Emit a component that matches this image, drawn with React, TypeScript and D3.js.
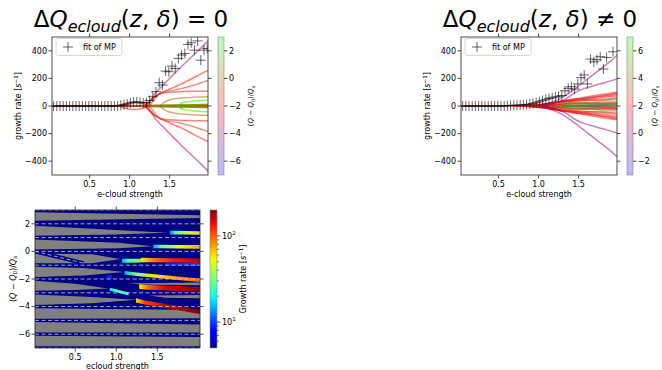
import React from "react";
import * as d3 from "d3";

const FONT = "'DejaVu Sans', sans-serif";

// e-cloud strength scan (fit of MP markers)
const scanX = [0.05, 0.09, 0.13, 0.17, 0.21, 0.25, 0.29, 0.33, 0.37, 0.41, 0.45, 0.49, 0.53, 0.57, 0.61, 0.65, 0.69, 0.73, 0.77, 0.81, 0.85, 0.89, 0.93, 0.97, 1.01, 1.05, 1.09, 1.13, 1.17, 1.21, 1.25, 1.29, 1.33, 1.37, 1.41, 1.45, 1.49, 1.53, 1.57, 1.61, 1.65, 1.69, 1.73, 1.77, 1.81, 1.85, 1.89, 1.93, 1.97];
const mpZero: (number | null)[] = [0, 0, 0, 0, 0, 0, 0, 0, 0, 0, 0, 0, 0, 0, 0, 0, 0, 0, 0, 0, 0, 5, 10, 15, 22, 28, 30, 27, 22, 25, 40, 67, 104, 169, 152, 253, 248, 289, 272, 345, 369, 380, 446, 458, 405, 472, 332, 405, 417];
const mpNonZero: (number | null)[] = [0, 0, 0, 0, 0, 0, 0, 0, 0, 0, 0, 0, 0, 0, 3, 4, 5, 6, 7, 9, 11, 14, 18, 26, 32, 40, 48, 55, 60, 65, 70, 76, 110, 128, 140, 122, 160, 205, 225, 160, 340, 320, 335, 357, 268, 352, null, 393, null];

// modes: tune shift q, strength samples x, growth of the + branch g (drawn as +g and -g)
type Mode = { q: number; x: number[]; g: number[] };

const modesZero: Mode[] = [
  { q: 2.4, x: [0.03, 1.98], g: [0, 0] },
  { q: -2.0, x: [0.03, 0.9, 1.3, 1.98], g: [0, 0, 3, 5] },
  { q: -1.0, x: [0.9, 1.3, 1.6, 1.98], g: [0, 4, 6, 8] },
  { q: 0.5, x: [1.0, 1.4, 1.98], g: [0, 3, 10] },
  { q: 1.5, x: [1.2, 1.6, 1.98], g: [0, 5, 12] },
  { q: -2.3, x: [0.88, 0.93, 0.98, 1.03, 1.08, 1.13, 1.18, 1.23], g: [0, 14, 22, 26, 26, 22, 14, 0] },
  { q: -4.2, x: [1.22, 1.26, 1.3, 1.4, 1.5, 1.6, 1.7, 1.8, 1.9, 1.98], g: [0, 35, 75, 140, 200, 258, 315, 370, 425, 472] },
  { q: -2.1, x: [1.18, 1.22, 1.28, 1.35, 1.45, 1.55, 1.65, 1.75, 1.85, 1.98], g: [0, 20, 50, 80, 110, 135, 160, 190, 220, 258] },
  { q: -0.9, x: [1.25, 1.3, 1.37, 1.45, 1.55, 1.65, 1.75, 1.85, 1.98], g: [0, 40, 90, 105, 115, 127, 142, 160, 185] },
  { q: -1.8, x: [1.2, 1.25, 1.32, 1.4, 1.5, 1.6, 1.7, 1.8, 1.9, 1.98], g: [0, 35, 70, 92, 100, 104, 105, 106, 107, 108] },
  { q: 0.0, x: [1.38, 1.42, 1.48, 1.55, 1.65, 1.75, 1.85, 1.98], g: [0, 22, 40, 50, 58, 62, 65, 67] },
  { q: 2.3, x: [1.6, 1.64, 1.7, 1.78, 1.88, 1.98], g: [0, 18, 28, 34, 39, 43] },
];

const modesNonZero: Mode[] = [
  { q: 2.0, x: [0.03, 1.98], g: [0, 0] },
  { q: 2.6, x: [0.7, 1.0, 1.3, 1.6, 1.98], g: [0, 5, 8, 10, 14] },
  { q: 2.0, x: [0.8, 1.0, 1.2, 1.4, 1.6, 1.8, 1.98], g: [0, 10, 25, 45, 65, 85, 100] },
  { q: 1.6, x: [0.85, 1.05, 1.25, 1.45, 1.65, 1.85, 1.98], g: [0, 12, 30, 50, 60, 80, 92] },
  { q: 2.4, x: [0.8, 1.0, 1.2, 1.4, 1.6, 1.8, 1.98], g: [0, 8, 22, 38, 58, 70, 85] },
  { q: 1.8, x: [0.9, 1.1, 1.3, 1.5, 1.7, 1.9, 1.98], g: [0, 15, 35, 40, 55, 68, 75] },
  { q: 3.5, x: [0.9, 1.1, 1.3, 1.5, 1.7, 1.9, 1.98], g: [0, 10, 20, 35, 45, 55, 62] },
  { q: 2.2, x: [0.95, 1.15, 1.35, 1.55, 1.75, 1.98], g: [0, 18, 30, 45, 40, 52] },
  { q: 5.5, x: [1.2, 1.4, 1.6, 1.8, 1.98], g: [0, 12, 20, 30, 38] },
  { q: 4.2, x: [1.0, 1.2, 1.4, 1.6, 1.8, 1.98], g: [0, 8, 18, 25, 22, 28] },
  { q: 1.2, x: [0.9, 1.1, 1.3, 1.5, 1.7, 1.9, 1.98], g: [0, 6, 14, 22, 18, 20, 22] },
  { q: -2.0, x: [1.3, 1.6, 1.8, 1.98], g: [0, 4, 8, 12] },
  { q: 6.2, x: [1.3, 1.6, 1.98], g: [0, 6, 10] },
  { q: -0.2, x: [1.02, 1.1, 1.2, 1.3, 1.4, 1.5, 1.6, 1.7, 1.8, 1.9, 1.98], g: [0, 15, 35, 62, 100, 145, 190, 235, 280, 325, 368] },
  { q: -0.1, x: [1.08, 1.15, 1.25, 1.35, 1.45, 1.55, 1.65, 1.75, 1.85, 1.98], g: [0, 12, 30, 55, 95, 122, 140, 157, 173, 195] },
];

const growthTicks = [-400, -200, 0, 200, 400];
const strengthTicks = [0.5, 1.0, 1.5];
const cbTicksZero = [-6, -4, -2, 0, 2];
const cbTicksNonZero = [-2, 0, 2, 4, 6];
const tuneTicks = [-6, -4, -2, 0, 2];
const integerTunes = [-7, -6, -5, -4, -3, -2, -1, 0, 1, 2, 3];

// heatmap: regions without a mode (masked, grey), as [strength, tune] outlines
const maskedRegions: [number, number][][] = [
  [[0.0, 2.84], [2.03, 2.62], [2.03, 2.42], [0.0, 2.22]],
  [[0.0, 1.86], [1.0, 1.55], [1.62, 1.36], [1.0, 1.22], [0.0, 1.14]],
  [[0.0, 0.87], [1.03, 0.63], [1.45, 0.38], [1.03, 0.22], [0.0, 0.14]],
  [[0.0, -0.15], [0.7, -0.2], [1.05, -0.55], [0.7, -0.85], [0.0, -0.85]],
  [[0.0, -1.12], [0.6, -1.2], [1.1, -1.5], [0.6, -1.75], [0.0, -1.85]],
  [[0.0, -2.12], [0.5, -2.35], [0.9, -2.68], [0.5, -2.8], [0.0, -2.85]],
  [[1.15, -2.3], [2.03, -2.25], [2.03, -2.45], [1.3, -2.4]],
  [[0.0, -3.12], [0.7, -3.3], [1.25, -3.5], [0.7, -3.75], [0.0, -3.88]],
  [[1.4, -3.2], [2.03, -3.15], [2.03, -3.4], [1.6, -3.35]],
  [[0.0, -4.12], [2.03, -4.25], [2.03, -4.85], [0.0, -4.88]],
  [[0.0, -5.12], [2.03, -5.3], [2.03, -5.88], [0.0, -5.88]],
  [[0.0, -6.12], [2.03, -6.2], [2.03, -6.88], [0.0, -6.88]],
];

// unstable modes in the heatmap: strength x, tune q, growth g
type Streak = { x: number[]; q: number[]; g: number[]; w: number };
const streaks: Streak[] = [
  { x: [1.65, 1.72, 1.85, 2.03], q: [1.36, 1.36, 1.35, 1.33], g: [12, 25, 45, 60], w: 0.26 },
  { x: [1.45, 1.55, 1.75, 2.03], q: [0.36, 0.35, 0.34, 0.33], g: [14, 28, 50, 75], w: 0.26 },
  { x: [1.07, 1.15, 1.3], q: [-0.68, -0.68, -0.67], g: [15, 25, 35], w: 0.28 },
  { x: [1.3, 1.45, 1.7, 2.03], q: [-0.62, -0.63, -0.65, -0.68], g: [55, 90, 130, 170], w: 0.32 },
  { x: [1.6, 2.03], q: [-0.92, -0.95], g: [9, 10], w: 0.2 },
  { x: [1.1, 1.25, 1.5, 1.75, 2.03], q: [-1.55, -1.65, -1.8, -1.95, -2.1], g: [15, 35, 60, 80, 100], w: 0.26 },
  { x: [0.88, 0.95], q: [-1.87, -1.87], g: [9, 9], w: 0.24 },
  { x: [0.92, 1.0, 1.15], q: [-2.75, -2.85, -3.08], g: [18, 25, 22], w: 0.22 },
  { x: [1.28, 1.4, 1.6, 2.03], q: [-2.55, -2.6, -2.65, -2.75], g: [55, 100, 150, 190], w: 0.34 },
  { x: [1.24, 1.35, 1.6, 2.03], q: [-3.55, -3.7, -3.95, -4.4], g: [60, 110, 170, 195], w: 0.3 },
];
const shiftedMode = { x: [0.01, 0.6], q: [0, -0.85] };
const rateMajor = [10, 100];
const rateMinor = [6, 7, 8, 9, 20, 30, 40, 50, 60, 70, 80, 90];

const fmt = (v: number) => (v < 0 ? "\u2212" + Math.abs(v) : String(v));

function brg(t: number) {
  t = Math.max(0, Math.min(1, t));
  const r = t < 0.5 ? 2 * t : 2 - 2 * t;
  const g = t < 0.5 ? 0 : 2 * t - 1;
  const b = t < 0.5 ? 1 - 2 * t : 0;
  return d3.rgb(r * 255, g * 255, b * 255).formatHex();
}

const jetR = [[0, 0], [0.35, 0], [0.66, 1], [0.89, 1], [1, 0.5]];
const jetG = [[0, 0], [0.125, 0], [0.375, 1], [0.64, 1], [0.91, 0], [1, 0]];
const jetB = [[0, 0.5], [0.11, 1], [0.34, 1], [0.65, 0], [1, 0]];
function chan(p: number[][], t: number) {
  for (let i = 1; i < p.length; i++) {
    if (t <= p[i][0]) {
      const [a, va] = p[i - 1];
      const [b, vb] = p[i];
      return va + ((vb - va) * (t - a)) / (b - a);
    }
  }
  return p[p.length - 1][1];
}
function jet(t: number) {
  t = Math.max(0, Math.min(1, t));
  return d3.rgb(255 * chan(jetR, t), 255 * chan(jetG, t), 255 * chan(jetB, t)).formatHex();
}
const rateT = d3.scaleLog().domain([5, 200]).range([0, 1]).clamp(true);

const TuneLabel = ({ fs }: { fs: number }) => (
  <>
    <tspan>(</tspan>
    <tspan fontStyle="italic">Q</tspan>
    <tspan> {"\u2212"} </tspan>
    <tspan fontStyle="italic">Q</tspan>
    <tspan fontSize={fs * 0.7} dy={fs * 0.2}>0</tspan>
    <tspan dy={-fs * 0.2}>)/</tspan>
    <tspan fontStyle="italic">Q</tspan>
    <tspan fontSize={fs * 0.7} fontStyle="italic" dy={fs * 0.2}>s</tspan>
  </>
);

function Title({ cx, op }: { cx: number; op: string }) {
  return (
    <text x={cx} y={27} textAnchor="middle" fontSize={23} fontFamily={FONT}>
      <tspan>Δ</tspan>
      <tspan fontStyle="italic">Q</tspan>
      <tspan fontStyle="italic" fontSize={16} dy={5}>ecloud</tspan>
      <tspan dy={-5}>(</tspan>
      <tspan fontStyle="italic">z</tspan>
      <tspan>, </tspan>
      <tspan fontStyle="italic">δ</tspan>
      <tspan>) {op} 0</tspan>
    </text>
  );
}

function TopPanel({ left, op, mp, modes, cbDomain, cbTicks, cbLabelGap, uid }: {
  left: number; op: string; mp: (number | null)[]; modes: Mode[]; cbDomain: [number, number]; cbTicks: number[]; cbLabelGap: number; uid: string;
}) {
  const x0 = left, x1 = left + 156, y0 = 37, y1 = 175;
  const x = d3.scaleLinear().domain([0.03, 1.98]).range([x0, x1]);
  const y = d3.scaleLinear().domain([-500, 500]).range([y1, y0]);
  const c = d3.scaleLinear().domain(cbDomain).range([y1, y0]);
  const col = (q: number) => brg((q - cbDomain[0]) / (cbDomain[1] - cbDomain[0]));
  const line = d3.line<[number, number]>().x((d) => x(d[0])).y((d) => y(d[1])).curve(d3.curveMonotoneX);
  const cbx = x1 + 10, cbw = 6;
  const fs = 8;
  return (
    <g fontFamily={FONT} fontSize={fs}>
      <Title cx={(x0 + x1) / 2 + 1} op={op} />
      <defs>
        <clipPath id={`clip-${uid}`}>
          <rect x={x0} y={y0} width={x1 - x0} height={y1 - y0} />
        </clipPath>
        <linearGradient id={`cb-${uid}`} x1="0" y1="1" x2="0" y2="0">
          {[0, 0.5, 1].map((t) => (
            <stop key={t} offset={t} stopColor={brg(t)} />
          ))}
        </linearGradient>
      </defs>
      <g clipPath={`url(#clip-${uid})`}>
        {modes.map((m, i) => (
          <g key={i} stroke={col(m.q)} strokeOpacity={0.5} strokeWidth={1.5} fill="none">
            <path d={line(m.x.map((v, j) => [v, m.g[j]] as [number, number])) || ""} />
            <path d={line(m.x.map((v, j) => [v, -m.g[j]] as [number, number])) || ""} />
          </g>
        ))}
        {scanX.map((v, i) =>
          mp[i] === null ? null : (
            <path key={i} d={`M${x(v) - 5},${y(mp[i] as number)}h10M${x(v)},${y(mp[i] as number) - 5}v10`} stroke="#000" strokeOpacity={0.6} strokeWidth={1} />
          )
        )}
      </g>
      <rect x={x0} y={y0} width={x1 - x0} height={y1 - y0} fill="none" stroke="#222" strokeWidth={0.8} />
      {strengthTicks.map((t) => (
        <g key={t}>
          <line x1={x(t)} x2={x(t)} y1={y1} y2={y1 + 3.5} stroke="#222" strokeWidth={0.8} />
          <line x1={x(t)} x2={x(t)} y1={y0} y2={y0 - 3.5} stroke="#222" strokeWidth={0.8} />
          <text x={x(t)} y={y1 + 12} textAnchor="middle">{d3.format(".1f")(t)}</text>
        </g>
      ))}
      {growthTicks.map((t) => (
        <g key={t}>
          <line x1={x0} x2={x0 - 3.5} y1={y(t)} y2={y(t)} stroke="#222" strokeWidth={0.8} />
          <line x1={x1} x2={x1 + 3.5} y1={y(t)} y2={y(t)} stroke="#222" strokeWidth={0.8} />
          <text x={x0 - 5} y={y(t)} dy="0.35em" textAnchor="end">{fmt(t)}</text>
        </g>
      ))}
      <text x={(x0 + x1) / 2} y={y1 + 22} textAnchor="middle">e-cloud strength</text>
      <text transform={`translate(${x0 - 34},${(y0 + y1) / 2}) rotate(-90)`} textAnchor="middle" dy="0.35em">
        <tspan>growth rate [</tspan>
        <tspan fontStyle="italic">s</tspan>
        <tspan fontSize={5.6} dy={-3}>{"\u2212"}1</tspan>
        <tspan dy={3}>]</tspan>
      </text>
      {/* legend */}
      <rect x={x0 + 4} y={y0 + 1.5} width={66} height={17} rx={2} fill="#fff" fillOpacity={0.8} stroke="#ccc" strokeWidth={0.8} />
      <path d={`M${x0 + 11},${y0 + 10}h10M${x0 + 16},${y0 + 5}v10`} stroke="#000" strokeOpacity={0.6} />
      <text x={x0 + 31} y={y0 + 13}>fit of MP</text>
      {/* colorbar */}
      <rect x={cbx} y={y0} width={cbw} height={y1 - y0} fill={`url(#cb-${uid})`} fillOpacity={0.28} />
      <rect x={cbx} y={y0} width={cbw} height={y1 - y0} fill="none" stroke="#888" strokeWidth={0.6} />
      {cbTicks.map((t) => (
        <g key={t}>
          <line x1={cbx + cbw} x2={cbx + cbw + 3.5} y1={c(t)} y2={c(t)} stroke="#222" strokeWidth={0.8} />
          <text x={cbx + cbw + 5} y={c(t)} dy="0.35em">{fmt(t)}</text>
        </g>
      ))}
      <text transform={`translate(${cbx + cbw + cbLabelGap},${(y0 + y1) / 2}) rotate(-90)`} textAnchor="middle" dy="0.35em" fontSize={7}>
        <TuneLabel fs={7} />
      </text>
    </g>
  );
}

function HeatPanel() {
  const x0 = 35, x1 = 200, y0 = 210, y1 = 348;
  const x = d3.scaleLinear().domain([0.01, 2.02]).range([x0, x1]);
  const y = d3.scaleLinear().domain([-7, 3]).range([y1, y0]);
  const cbx = 210, cbw = 7;
  const r = d3.scaleLog().domain([5, 200]).range([y1, y0]);
  const fs = 8;
  const poly = (pts: [number, number][]) => "M" + pts.map((p) => `${x(p[0])},${y(p[1])}`).join("L") + "Z";
  return (
    <g fontFamily={FONT} fontSize={fs}>
      <defs>
        <clipPath id="clip-heat">
          <rect x={x0} y={y0} width={x1 - x0} height={y1 - y0} />
        </clipPath>
        <linearGradient id="cb-jet" x1="0" y1="1" x2="0" y2="0">
          {d3.range(0, 1.001, 0.02).map((t) => (
            <stop key={t} offset={t} stopColor={jet(t)} />
          ))}
        </linearGradient>
        {streaks.map((s, i) => (
          <linearGradient key={i} id={`st-${i}`} gradientUnits="userSpaceOnUse" x1={x(s.x[0])} x2={x(s.x[s.x.length - 1])} y1={0} y2={0}>
            {s.x.map((v, j) => (
              <stop key={j} offset={(v - s.x[0]) / (s.x[s.x.length - 1] - s.x[0])} stopColor={jet(rateT(s.g[j]))} />
            ))}
          </linearGradient>
        ))}
      </defs>
      <g clipPath="url(#clip-heat)">
        <rect x={x0} y={y0} width={x1 - x0} height={y1 - y0} fill={jet(0)} />
        {maskedRegions.map((p, i) => (
          <path key={i} d={poly(p)} fill="#808080" />
        ))}
        <path d={`M${x(shiftedMode.x[0])},${y(shiftedMode.q[0])}L${x(shiftedMode.x[1])},${y(shiftedMode.q[1])}`} stroke={jet(0)} strokeWidth={4} />
        {streaks.map((s, i) => {
          const up = s.x.map((v, j) => [v, s.q[j] + s.w / 2] as [number, number]);
          const lo = s.x.map((v, j) => [v, s.q[j] - s.w / 2] as [number, number]).reverse();
          return <path key={i} d={poly(up.concat(lo))} fill={`url(#st-${i})`} />;
        })}
        {integerTunes.map((q) => (
          <line key={q} x1={x0} x2={x1} y1={y(q)} y2={y(q)} stroke="#c8c8ff" strokeOpacity={0.8} strokeWidth={1} strokeDasharray="4,2.5" />
        ))}
        <line x1={x(shiftedMode.x[0])} y1={y(shiftedMode.q[0])} x2={x(shiftedMode.x[1])} y2={y(shiftedMode.q[1])} stroke="#c8c8ff" strokeOpacity={0.8} strokeWidth={1} strokeDasharray="4,2.5" />
      </g>
      <rect x={x0} y={y0} width={x1 - x0} height={y1 - y0} fill="none" stroke="#222" strokeWidth={0.8} />
      {strengthTicks.map((t) => (
        <g key={t}>
          <line x1={x(t)} x2={x(t)} y1={y1} y2={y1 + 3.5} stroke="#222" strokeWidth={0.8} />
          <line x1={x(t)} x2={x(t)} y1={y0} y2={y0 - 3.5} stroke="#222" strokeWidth={0.8} />
          <text x={x(t)} y={y1 + 12} textAnchor="middle">{d3.format(".1f")(t)}</text>
        </g>
      ))}
      {tuneTicks.map((t) => (
        <g key={t}>
          <line x1={x0} x2={x0 - 3.5} y1={y(t)} y2={y(t)} stroke="#222" strokeWidth={0.8} />
          <line x1={x1} x2={x1 + 3.5} y1={y(t)} y2={y(t)} stroke="#222" strokeWidth={0.8} />
          <text x={x0 - 5} y={y(t)} dy="0.35em" textAnchor="end">{fmt(t)}</text>
        </g>
      ))}
      <text x={(x0 + x1) / 2} y={y1 + 21} textAnchor="middle">ecloud strength</text>
      <text transform={`translate(${x0 - 22},${(y0 + y1) / 2}) rotate(-90)`} textAnchor="middle" dy="0.35em">
        <TuneLabel fs={fs} />
      </text>
      {/* colorbar */}
      <rect x={cbx} y={y0} width={cbw} height={y1 - y0} fill="url(#cb-jet)" />
      <rect x={cbx} y={y0} width={cbw} height={y1 - y0} fill="none" stroke="#888" strokeWidth={0.6} />
      {rateMinor.map((t) => (
        <line key={t} x1={cbx + cbw} x2={cbx + cbw + 2} y1={r(t)} y2={r(t)} stroke="#222" strokeWidth={0.6} />
      ))}
      {rateMajor.map((t) => (
        <g key={t}>
          <line x1={cbx + cbw} x2={cbx + cbw + 3.5} y1={r(t)} y2={r(t)} stroke="#222" strokeWidth={0.8} />
          <text x={cbx + cbw + 5} y={r(t)} dy="0.35em">
            <tspan>10</tspan>
            <tspan fontSize={5.6} dy={-3.5}>{Math.round(Math.log10(t))}</tspan>
          </text>
        </g>
      ))}
      <text transform={`translate(${cbx + cbw + 26},${(y0 + y1) / 2}) rotate(-90)`} textAnchor="middle" dy="0.35em">
        <tspan>Growth rate [</tspan>
        <tspan fontStyle="italic">s</tspan>
        <tspan fontSize={5.6} dy={-3}>{"\u2212"}1</tspan>
        <tspan dy={3}>]</tspan>
      </text>
    </g>
  );
}

export default function App() {
  return (
    <svg width={662} height={370} style={{ position: "absolute", left: 0, top: 0, background: "#fff" }}>
      <TopPanel left={52} op="=" mp={mpZero} modes={modesZero} cbDomain={[-7, 3]} cbTicks={cbTicksZero} cbLabelGap={27} uid="zero" />
      <TopPanel left={461} op={"\u2260"} mp={mpNonZero} modes={modesNonZero} cbDomain={[-3, 7]} cbTicks={cbTicksNonZero} cbLabelGap={22} uid="nonzero" />
      <HeatPanel />
    </svg>
  );
}
